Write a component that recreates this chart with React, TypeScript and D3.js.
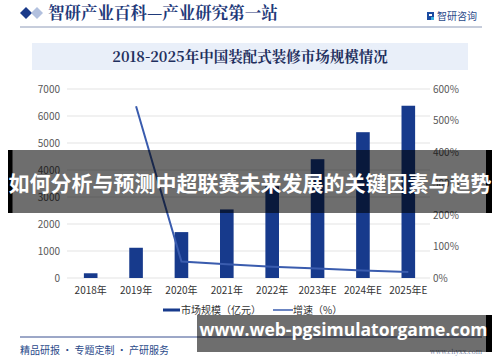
import React from "react";
import * as d3 from "d3";

const categories = ["2018年", "2019年", "2020年", "2021年", "2022年", "2023年E", "2024年E", "2025年E"];
const marketSize = [175, 1120, 1700, 2540, 3400, 4400, 5400, 6380];
const growth: (number | null)[] = [null, 545, 52, 44, 36, 30, 24, 19];
const leftTicks = [0, 1000, 2000, 3000, 4000, 5000, 6000, 7000];
const rightTicks = [0, 100, 200, 300, 400, 500, 600];

const W = 500;
const H = 362;
const serif = "'Noto Serif CJK SC','Noto Sans CJK SC',serif";
const sans = "'Noto Sans CJK SC','Noto Sans',sans-serif";

export default function App() {
  const x = d3.scaleBand<string>().domain(categories).range([68, 431]).paddingInner(0.7).paddingOuter(0.35);
  const yL = d3.scaleLinear().domain([0, 7000]).range([278, 89]);
  const yR = d3.scaleLinear().domain([0, 600]).range([278, 89]);
  const cx = (c: string) => (x(c) as number) + x.bandwidth() / 2;

  const pts = categories
    .map((c, i) => ({ c, v: growth[i] }))
    .filter((d) => d.v !== null) as { c: string; v: number }[];
  const line = d3
    .line<{ c: string; v: number }>()
    .x((d) => cx(d.c))
    .y((d) => yR(d.v));

  return (
    <svg width={W} height={H} style={{ position: "absolute", left: 0, top: 0, background: "#fff" }}>
      <rect x={0} y={0} width={W} height={H} fill="#fff" />
      {/* header */}
      <path d="M20,13 L26,7 L32,13 L26,19 Z" fill="#1a3a8a" />
      <path d="M31,13 L37,7 L43,13 L37,19 Z" fill="#9fb0d6" opacity={0.8} />
      <text x={48} y={19} fontFamily={serif} fontWeight={700} fontSize={16.5} fill="#1f3a7a">
        智研产业百科—产业研究第一站
      </text>
      <line x1={20} x2={482} y1={27} y2={27} stroke="#8e9bb8" strokeWidth={1} />
      <g>
        <rect x={427} y={12} width={7} height={8} fill="#1a4aa0" />
        <rect x={429} y={14} width={3} height={2} fill="#fff" />
        <rect x={431} y={17} width={3} height={3} fill="#39b0e0" />
      </g>
      <text x={437} y={20} fontFamily={sans} fontSize={10} fill="#2a4a8a">
        智研咨询
      </text>

      {/* title box */}
      <rect x={32} y={43} width={436} height={27} fill="#e9eff9" />
      <text x={250} y={62} textAnchor="middle" fontFamily={serif} fontWeight={700} fontSize={14.5} fill="#1f2f5e">
        2018-2025年中国装配式装修市场规模情况
      </text>

      {/* grid */}
      {leftTicks.map((t) => (
        <line key={"g" + t} x1={67} x2={430} y1={yL(t)} y2={yL(t)} stroke="#e3e3e3" strokeWidth={1} />
      ))}
      {leftTicks.map((t) => (
        <text key={"l" + t} x={60} y={yL(t) + 3.5} textAnchor="end" fontFamily={sans} fontSize={10} fill="#595959">
          {t}
        </text>
      ))}
      {rightTicks.map((t) => (
        <text key={"r" + t} x={433} y={yR(t) + 3.5} textAnchor="start" fontFamily={sans} fontSize={10} fill="#595959">
          {t + "%"}
        </text>
      ))}

      {/* bars */}
      {categories.map((c, i) => (
        <rect key={c} x={x(c)} y={yL(marketSize[i])} width={x.bandwidth()} height={yL(0) - yL(marketSize[i])} fill="#173a8c" />
      ))}
      <path d={line(pts) || ""} fill="none" stroke="#3a5cae" strokeWidth={2} />

      {categories.map((c) => (
        <text key={"x" + c} x={cx(c)} y={294} textAnchor="middle" fontFamily={sans} fontSize={10} fill="#333">
          {c}
        </text>
      ))}

      {/* legend */}
      <rect x={163} y={308.5} width={17} height={3} fill="#173a8c" />
      <text x={181} y={313.5} fontFamily={sans} fontSize={10} fill="#333">
        市场规模（亿元）
      </text>
      <line x1={273} x2={293} y1={310} y2={310} stroke="#3a5cae" strokeWidth={1.5} />
      <text x={293} y={313.5} fontFamily={sans} fontSize={10} fill="#333">
        增速（%）
      </text>

      {/* footer */}
      <line x1={20} x2={482} y1={337} y2={337} stroke="#3a5090" strokeWidth={1} />
      <text x={20} y={354} fontFamily={sans} fontSize={10} fill="#2a4a8a">
        精品研报 · 专题定制 · 产研服务
      </text>
      <text x={482} y={354} textAnchor="end" fontFamily={serif} fontSize={6.5} fill="#6c7ba0">
        www.chyxx.com
      </text>

      {/* overlay banners */}
      <rect x={8} y={150} width={484} height={63} fill="#000" opacity={0.57} />
      <rect x={8} y={150} width={4.5} height={63} fill="#000" />
      <rect x={486} y={150} width={6} height={63} fill="#000" />
      <text x={250} y={191} textAnchor="middle" fontFamily={sans} fontWeight={700} fontSize={21} fill="#fff">
        如何分析与预测中超联赛未来发展的关键因素与趋势
      </text>

      <rect x={197} y={315} width={295} height={37} fill="#000" opacity={0.57} />
      <rect x={486} y={315} width={6} height={37} fill="#000" />
      <text x={343.5} y={336} textAnchor="middle" fontFamily="'Open Sans','Noto Sans',sans-serif" fontWeight={700} fontSize={17.5} fill="#fff">
        www.web-pgsimulatorgame.com
      </text>
    </svg>
  );
}
